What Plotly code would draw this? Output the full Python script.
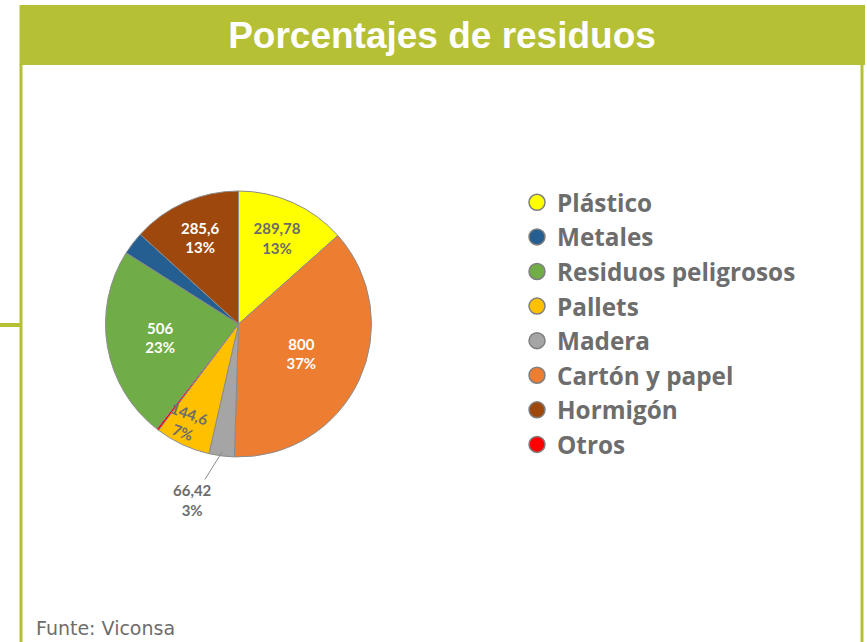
import math
import plotly.graph_objects as go

# Data (pie order: clockwise from 12 o'clock)
slice_labels = ["Plástico", "Cartón y papel", "Madera", "Pallets", "Otros",
                "Residuos peligrosos", "Metales", "Hormigón"]
slice_values = [289.78, 800, 66.42, 144.6, 6, 506, 60, 285.6]
slice_colors = ["#FFFF00", "#ED7D31", "#A5A5A5", "#FFC000", "#FF0000",
                "#70AD47", "#255E91", "#9E480E"]
show_label = [True, True, False, False, False, True, False, True]
label_text_colors = ["#6B6B6B", "#FFFFFF", "#6B6B6B", "#6B6B6B", "#FFFFFF",
                     "#FFFFFF", "#FFFFFF", "#FFFFFF"]
outside_label = "Madera"
tilted_label = "Pallets"

# Legend order
legend_order = ["Plástico", "Metales", "Residuos peligrosos", "Pallets",
                "Madera", "Cartón y papel", "Hormigón", "Otros"]

title_text = "Porcentajes de residuos"
source_text = "Funte: Viconsa"

W, H = 867, 642
GREEN = "#B5C035"
GRAY_TXT = "#6D6D6D"


def px_x(x):
    return x / W


def px_y(y):
    return 1 - y / H


fig = go.Figure()

cx, cy, r = 238.5, 324, 133
fig.add_trace(go.Pie(
    labels=slice_labels,
    values=slice_values,
    sort=False,
    direction="clockwise",
    rotation=0,
    marker=dict(colors=slice_colors, line=dict(color="#8C8C8C", width=1)),
    texttemplate=["%{value}<br>%{percent:.0%}" if s else "" for s in show_label],
    textposition="inside",
    insidetextorientation="horizontal",
    textfont=dict(family="Lato", size=15, color=label_text_colors, weight="bold"),
    domain=dict(x=[px_x(cx - r), px_x(cx + r)], y=[px_y(cy + r), px_y(cy - r)]),
    showlegend=False,
    hoverinfo="label+value+percent",
))

total = sum(slice_values)


def slice_point(name, frac_r, extra_deg=0.0):
    k = slice_labels.index(name)
    mid = (sum(slice_values[:k]) + slice_values[k] / 2) / total
    th = 2 * math.pi * mid + math.radians(extra_deg)
    return (cx + frac_r * r * math.sin(th), cy - frac_r * r * math.cos(th)), k


def label_text(k):
    v = f"{slice_values[k]}".replace(".", ",")
    p = f"{round(slice_values[k] / total * 100)}%"
    return f"<b>{v}<br>{p}</b>"


(tip_x, tip_y), k_out = slice_point(outside_label, 0.97)
(tl_x, tl_y), k_tl = slice_point(tilted_label, 0.84, 3)

color_map = dict(zip(slice_labels, slice_colors))
for i, name in enumerate(legend_order):
    fig.add_trace(go.Scatter(
        x=[None], y=[None], mode="markers", name=name,
        legendgroup=f"g{i}",
        marker=dict(size=22, color=color_map[name], symbol="circle",
                    line=dict(color="#7F7F7F", width=1.5)),
    ))

fig.update_layout(
    width=W, height=H,
    margin=dict(l=0, r=0, t=0, b=0),
    paper_bgcolor="white",
    plot_bgcolor="white",
    separators=",.",
    font=dict(family="Lato"),
    xaxis=dict(visible=False),
    yaxis=dict(visible=False),
    title=dict(text=title_text, x=px_x(442), xanchor="center",
               y=px_y(35), yanchor="middle", yref="paper",
               font=dict(family="Liberation Sans", size=37, color="white", weight="bold")),
    legend=dict(x=px_x(517), xanchor="left", y=px_y(180), yanchor="top",
                font=dict(family="Open Sans", size=24.3, color=GRAY_TXT, weight="bold"),
                tracegroupgap=0, bgcolor="rgba(0,0,0,0)"),
    shapes=[
        dict(type="rect", xref="paper", yref="paper",
             x0=px_x(19.5), x1=px_x(865), y0=px_y(65), y1=px_y(5),
             fillcolor=GREEN, line=dict(width=0), layer="below"),
        dict(type="line", xref="paper", yref="paper",
             x0=px_x(21), x1=px_x(21), y0=px_y(64), y1=0,
             line=dict(color=GREEN, width=3)),
        dict(type="line", xref="paper", yref="paper",
             x0=px_x(862), x1=px_x(862), y0=px_y(64), y1=0,
             line=dict(color=GREEN, width=3)),
        dict(type="line", xref="paper", yref="paper",
             x0=0, x1=px_x(20), y0=px_y(325), y1=px_y(325),
             line=dict(color=GREEN, width=4)),
    ],
    annotations=[
        dict(text=label_text(k_out), xref="paper", yref="paper",
             x=px_x(tip_x), y=px_y(tip_y), ax=-30, ay=48,
             showarrow=True, arrowhead=0, arrowwidth=1, arrowcolor="#8C8C8C",
             font=dict(family="Lato", size=15, color=GRAY_TXT)),
        dict(text=label_text(k_tl), xref="paper", yref="paper",
             x=px_x(tl_x), y=px_y(tl_y), xanchor="center", yanchor="middle",
             textangle=20, showarrow=False,
             font=dict(family="Lato", size=15, color=GRAY_TXT)),
        dict(text=source_text, xref="paper", yref="paper",
             x=px_x(34), y=0, xanchor="left", yanchor="bottom", yshift=1,
             showarrow=False, font=dict(family="DejaVu Sans", size=19, color=GRAY_TXT)),
    ],
)

fig.write_html("out.html", config={"displayModeBar": False},
               post_script="document.body.style.margin='0';")
